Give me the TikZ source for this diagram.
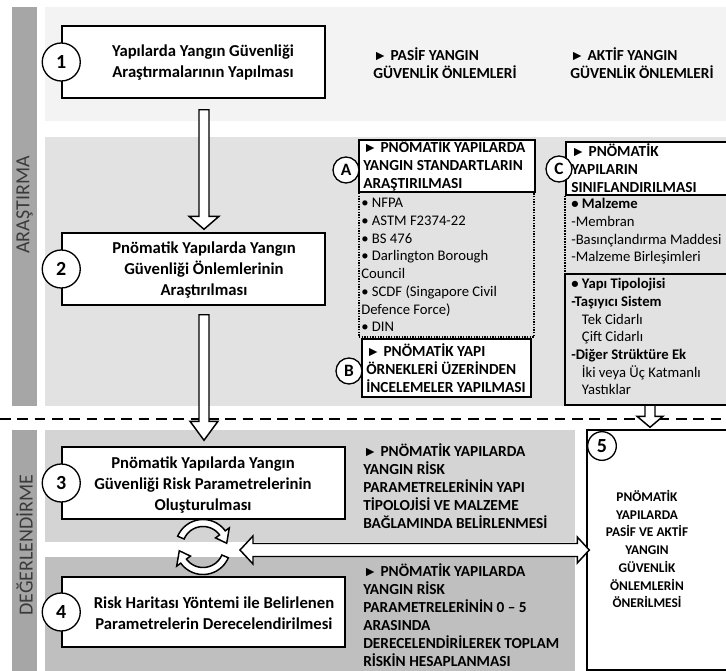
\documentclass[tikz,border=0pt]{standalone}
\usepackage{fontspec}
\setmainfont{Carlito}
\newfontfamily\symfont{Liberation Sans}
\usetikzlibrary{calc}

\definecolor{bandA}{HTML}{F3F3F3}
\definecolor{bandB}{HTML}{E2E2E2}
\definecolor{bandC}{HTML}{D4D4D4}
\definecolor{bandD}{HTML}{BFBFBF}
\definecolor{barcol}{HTML}{A6A6A6}
\definecolor{bartxt}{HTML}{3A3A3A}

\newcommand\tri{{\symfont\fontsize{10.5}{10.5}\selectfont ►}}
% vertical hollow block arrow: start, tip, half shaft, half head, head length
\newcommand\vblock[5]{%
  \draw[hollow] ($(#1)+(-#3,0)$) -- ($(#2)+(-#3,-#5)$) -- ($(#2)+(-#4,-#5)$) -- (#2)
    -- ($(#2)+(#4,-#5)$) -- ($(#2)+(#3,-#5)$) -- ($(#1)+(#3,0)$) -- cycle;}

\begin{document}
\begin{tikzpicture}[x=0.75pt,y=-0.75pt,
  mainbox/.style={draw, line width=1.1pt, fill=white, inner sep=0pt,
    preaction={fill=black, transform canvas={xshift=1.1pt,yshift=-1.1pt}}},
  plainbox/.style={draw, line width=1.1pt, inner sep=0pt},
  numcirc/.style={circle, draw, line width=1pt, fill=white, inner sep=0pt,
    minimum size=28.5pt, font=\fontsize{15}{15}\selectfont\bfseries},
  smallcirc/.style={circle, draw, line width=1pt, fill=white, inner sep=0pt,
    minimum size=19.5pt, font=\fontsize{13}{13}\selectfont\bfseries},
  maintext/.style={align=center, inner sep=0pt, font=\fontsize{12.5}{15.75}\selectfont\bfseries},
  smallbold/.style={align=left, inner sep=0pt, font=\fontsize{11.5}{13.5}\selectfont\bfseries},
  smallreg/.style={align=left, inner sep=0pt, font=\fontsize{11}{13.3}\selectfont},
  centerbold/.style={align=center, inner sep=0pt, font=\fontsize{10}{13.3}\selectfont\bfseries},
  hollow/.style={draw, line width=1.1pt, fill=white, line join=miter},
  dotline/.style={line width=1.2pt, dash pattern=on 1.1pt off 0.9pt},
  divider/.style={line width=2.2pt, dash pattern=on 8pt off 5pt},
  bartext/.style={rotate=90, text=bartxt, inner sep=0pt, font=\fontsize{15}{15}\selectfont},
]
\useasboundingbox (0,0) rectangle (726,671);
\clip (0,0) rectangle (726,671);

% backgrounds
\fill[barcol] (12,7) rectangle (37,406);
\fill[bandA] (45,7) rectangle (726,121);
\fill[bandB] (45,137) rectangle (726,406);
\fill[barcol] (12,430) rectangle (37,671);
\fill[bandC] (45,430) rectangle (575,542);
\fill[bandD] (45,557) rectangle (575,671);
\draw[divider] (0,419) -- (726,419);

\node[bartext] (lblA) at (24.5,205) {ARAŞTIRMA};
\node[bartext] (lblD) at (24.5,545) {DEĞERLENDİRME};

% main boxes
\node[mainbox, minimum width=263*0.75pt, minimum height=72*0.75pt] (b1) at (193.5,62) {};
\node[mainbox, minimum width=263*0.75pt, minimum height=72*0.75pt] (b2) at (193.5,269) {};
\node[mainbox, minimum width=283*0.75pt, minimum height=72*0.75pt] (b3) at (203.5,483) {};
\node[mainbox, minimum width=283*0.75pt, minimum height=70*0.75pt] (b4) at (203.5,612) {};
\node[plainbox, fill=white, minimum width=148*0.75pt, minimum height=240*0.75pt] (b5) at (661,550) {};

% A / B / C boxes
\node[plainbox, dotline, minimum width=175*0.75pt, minimum height=197*0.75pt] (lA) at (446.5,238.5) {};
\node[plainbox, fill=white, minimum width=176*0.75pt, minimum height=52*0.75pt] (hA) at (447,166) {};
\node[plainbox, fill=white, minimum width=169*0.75pt, minimum height=58*0.75pt] (hB) at (446.5,368) {};
\node[plainbox, fill=white, minimum width=169*0.75pt, minimum height=53*0.75pt] (hC) at (650.5,168.5) {};
\node[plainbox, minimum width=170*0.75pt, minimum height=131*0.75pt] (yb) at (650,339.5) {};
\draw[dotline] (hC.south west) -- (yb.north west -| hC.south west);

% hollow connectors
\coordinate (ax) at (204,0);
\coordinate (cx) at (650,0);
\coordinate (s12) at ($(b1.south -| ax)+(0,11)$);
\coordinate (t12) at ($(b2.north -| ax)+(0,-3)$);
\vblock{s12}{t12}{5}{15}{13}
\coordinate (s23) at ($(b2.south -| ax)+(0,9)$);
\coordinate (t23) at ($(b3.north -| ax)+(0,-6)$);
\vblock{s23}{t23}{5}{14}{19}
\coordinate (sc5) at ($(yb.south -| cx)+(0,-0.5)$);
\coordinate (tc5) at ($(b5.north -| cx)+(0,-2)$);
\vblock{sc5}{tc5}{5}{13}{11}

% cycle arrows between 3 and 4
\coordinate (cy) at (203,547);
\begin{scope}[shift={(cy)}]
\draw[hollow] plot[domain=203:324, samples=30] (\x:27.5) -- (324:32.5) -- (351:24) -- (324:15.5) -- (324:20.5)
  -- plot[domain=324:203, samples=30] (\x:20.5) -- cycle;
\draw[hollow] plot[domain=23:144, samples=30] (\x:27.5) -- (144:32.5) -- (171:24) -- (144:15.5) -- (144:20.5)
  -- plot[domain=144:23, samples=30] (\x:20.5) -- cycle;
\end{scope}

% double hollow arrow between cycle and box 5
\coordinate (dl) at ($(cy)+(37,3)$);
\coordinate (dr) at ($(b5.west |- dl)+(3,0)$);
\draw[hollow] (dl) -- ++(13,-14) -- ++(0,7.5) -- ($(dr)+(-12,-6.5)$) -- ++(0,-6.5) -- (dr)
  -- ++(-12,13) -- ++(0,-6.5) -- ($(dl)+(13,6.5)$) -- ++(0,7.5) -- cycle;

% number circles
\node[numcirc] (c1) at (b1.west) {1};
\node[numcirc] (c2) at (b2.west) {2};
\node[numcirc] (c3) at (b3.west) {3};
\node[numcirc] (c4) at (b4.west) {4};
\node[numcirc, minimum size=21.5pt] (c5) at (602,446) {5};
\node[smallcirc] (cA) at (346,170) {A};
\node[smallcirc] (cB) at (349,371) {B};
\node[smallcirc] (cC) at (559,169) {C};

% texts
\node[maintext] (t1) at (203,63) {Yapılarda Yangın Güvenliği\\Araştırmalarının Yapılması};
\node[maintext] (t2) at (204,270) {Pnömatik Yapılarda Yangın\\Güvenliği Önlemlerinin\\Araştırılması};
\node[maintext] (t3) at (203,485) {Pnömatik Yapılarda Yangın\\Güvenliği Risk Parametrelerinin\\Oluşturulması};
\node[maintext] (t4) at (214,613) {Risk Haritası Yöntemi ile Belirlenen\\Parametrelerin Derecelendirilmesi};

\node[smallbold, anchor=west] (pasif) at (373,63) {\tri\ PASİF YANGIN\\GÜVENLİK ÖNLEMLERİ};
\node[smallbold, anchor=west] (aktif) at (570,63) {\tri\ AKTİF YANGIN\\GÜVENLİK ÖNLEMLERİ};

\node[smallbold, anchor=west] (tA) at (363,165) {\tri\ PNÖMATİK YAPILARDA\\YANGIN STANDARTLARIN\\ARAŞTIRILMASI};
\node[smallreg, anchor=north west] (listA) at (361,198) {• NFPA\\• ASTM F2374-22\\• BS 476\\• Darlington Borough\\Council\\• SCDF (Singapore Civil\\Defence Force)\\• DIN};
\node[smallbold, anchor=west] (tB) at (366,368) {\tri\ PNÖMATİK YAPI\\ÖRNEKLERİ ÜZERİNDEN\\İNCELEMELER YAPILMASI};
\node[smallbold, anchor=west] (tC) at (571,168) {\tri\ PNÖMATİK\\YAPILARIN\\SINIFLANDIRILMASI};
\node[smallreg, anchor=north west] (listC1) at (571,198) {\textbf{• Malzeme}\\-Membran\\-Basınçlandırma Maddesi\\-Malzeme Birleşimleri};
\node[smallreg, anchor=north west] (listC2) at (571,278) {\textbf{• Yapı Tipolojisi}\\\textbf{-Taşıyıcı Sistem}\\\hspace*{8pt}Tek Cidarlı\\\hspace*{8pt}Çift Cidarlı\\\textbf{-Diğer Strüktüre Ek}\\\hspace*{8pt}İki veya Üç Katmanlı\\\hspace*{8pt}Yastıklar};

\node[smallbold, anchor=west] (s3) at (363,486) {\tri\ PNÖMATİK YAPILARDA\\YANGIN RİSK\\PARAMETRELERİNİN YAPI\\TİPOLOJİSİ VE MALZEME\\BAĞLAMINDA BELİRLENMESİ};
\node[smallbold, anchor=west] (s4) at (363,615) {\tri\ PNÖMATİK YAPILARDA\\YANGIN RİSK\\PARAMETRELERİNİN 0 – 5\\ARASINDA\\DERECELENDİRİLEREK TOPLAM\\RİSKİN HESAPLANMASI};
\node[centerbold] (t5) at (647,549) {PNÖMATİK\\YAPILARDA\\PASİF VE AKTİF\\YANGIN\\GÜVENLİK\\ÖNLEMLERİN\\ÖNERİLMESİ};
\end{tikzpicture}
\end{document}
